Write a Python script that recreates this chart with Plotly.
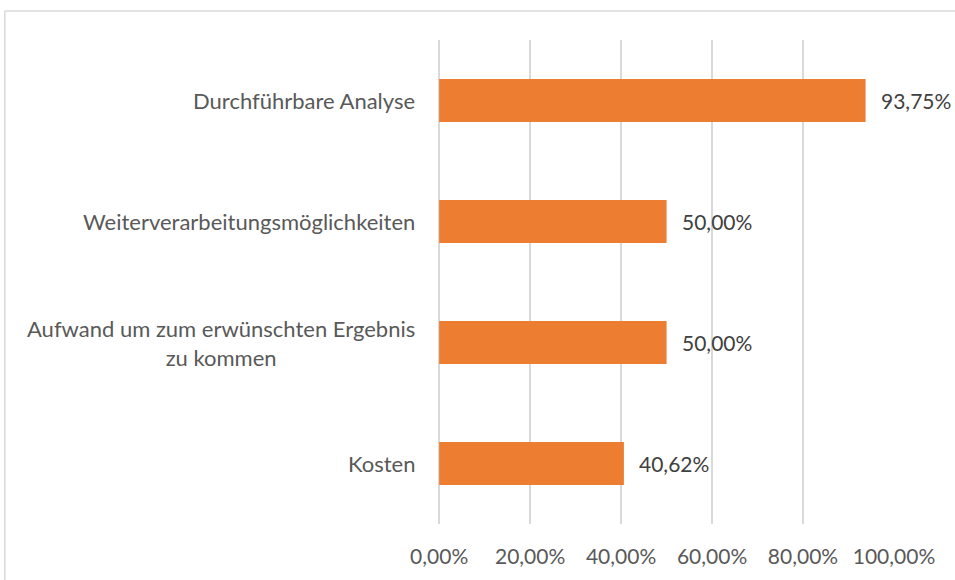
import plotly.graph_objects as go

categories = ["Kosten", "Aufwand um zum erwünschten Ergebnis<br>zu kommen",
              "Weiterverarbeitungsmöglichkeiten", "Durchführbare Analyse"]
values = [40.62, 50.00, 50.00, 93.75]
tick_vals = [0, 20, 40, 60, 80, 100]
tick_text = ["0,00%", "20,00%", "40,00%", "60,00%", "80,00%", "100,00%"]
value_labels = ["40,62%", "50,00%", "50,00%", "93,75%"]

FONT = "Lato"
TXT = "#595959"

fig = go.Figure(go.Bar(
    x=values, y=categories, orientation="h",
    marker=dict(color="#ED7D31", line=dict(width=0)),
    width=0.354, hoverinfo="skip",
))

annotations = []
for c, v, lab in zip(categories, values, value_labels):
    annotations.append(dict(x=v, y=c, xref="x", yref="y", text=lab, showarrow=False,
                            xanchor="left", xshift=13,
                            font=dict(family=FONT, size=21, color="#404040")))
    annotations.append(dict(x=0, y=c, xref="paper", yref="y", text=c, showarrow=False,
                            xanchor="right", align="center", xshift=-21,
                            font=dict(family=FONT, size=22, color=TXT)))

fig.update_layout(
    width=955, height=580,
    margin=dict(l=438, r=61, t=40, b=54),
    paper_bgcolor="white", plot_bgcolor="white",
    showlegend=False,
    bargap=0.6,
    xaxis=dict(range=[-0.25, 100], tickvals=tick_vals, ticktext=tick_text,
               showgrid=True, gridcolor="#D9D9D9", gridwidth=2,
               zeroline=True, zerolinecolor="#D9D9D9", zerolinewidth=2,
               showline=False, ticks="", ticklabelstandoff=18,
               tickfont=dict(family=FONT, size=21, color=TXT), fixedrange=True),
    yaxis=dict(categoryorder="array", categoryarray=categories, range=[-0.5, 3.5],
               showticklabels=False, showgrid=False, zeroline=False, showline=False,
               ticks="", fixedrange=True),
    annotations=annotations,
    shapes=[
        dict(type="line", xref="paper", yref="paper", x0=-0.95, x1=1.2, y0=1.0597, y1=1.0597,
             line=dict(color="#D9D9D9", width=1.5)),
        dict(type="line", xref="paper", yref="paper", x0=-0.95, x1=-0.95, y0=1.0597, y1=-0.2,
             line=dict(color="#D9D9D9", width=1.5)),
    ],
)

fig.write_html("out.html", config={"displayModeBar": False},
               post_script="document.body.style.margin='0';")
